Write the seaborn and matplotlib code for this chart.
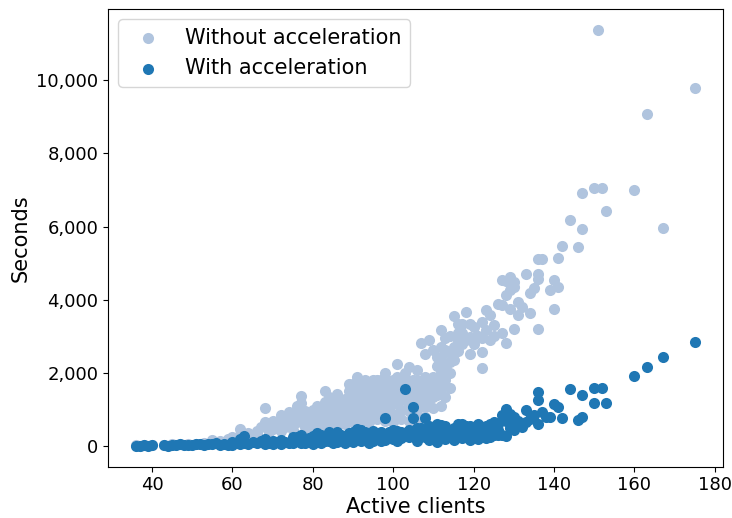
import matplotlib
matplotlib.use("Agg")
import matplotlib.pyplot as plt
import matplotlib.ticker as mticker
import seaborn as sns

# Job duration vs. number of active clients, run without acceleration
without_clients = [
    36, 37, 38, 40, 43, 45, 47, 49, 51, 53, 55, 56, 57, 58, 59, 60, 61, 62, 62, 63,
    64, 65, 66, 66, 67, 68, 68, 69, 69, 70, 70, 71, 72, 72, 72, 73, 73, 74, 74, 75,
    75, 75, 76, 76, 76, 77, 77, 77, 78, 78, 78, 79, 79, 80, 80, 80, 81, 81, 81, 82,
    82, 83, 83, 83, 84, 84, 84, 85, 85, 85, 86, 86, 86, 87, 87, 87, 88, 88, 89, 89,
    89, 89, 90, 90, 90, 91, 91, 91, 91, 92, 92, 92, 93, 93, 93, 93, 94, 94, 94, 95,
    95, 95, 95, 96, 96, 96, 97, 97, 97, 98, 98, 98, 98, 99, 99, 99, 100, 100, 100, 100,
    101, 101, 101, 101, 102, 102, 102, 103, 103, 103, 104, 104, 104, 104, 105, 105, 105, 106, 106, 106,
    107, 107, 107, 108, 108, 108, 108, 109, 109, 110, 110, 110, 110, 111, 111, 112, 112, 112, 112, 113,
    113, 113, 114, 114, 115, 115, 116, 116, 117, 117, 118, 118, 119, 119, 119, 120, 120, 121, 122, 122,
    122, 122, 123, 123, 124, 124, 125, 125, 126, 127, 127, 127, 128, 128, 128, 129, 129, 129, 130, 130,
    130, 131, 131, 132, 133, 134, 134, 135, 136, 136, 136, 137, 136, 139, 140, 140, 141, 141, 142, 144,
    146, 147, 147, 150, 152, 151, 153, 160, 163, 167, 175,
    84, 85, 86, 87, 88, 88, 89, 90, 90, 91, 91, 92, 92, 93, 94, 94, 95, 95, 96, 96,
    97, 97, 98, 98, 99, 99, 100, 100, 101, 101, 102, 102, 103, 103, 104, 104, 105, 105, 106, 106,
    107, 107, 108, 109, 109, 110, 111, 111, 112, 112, 113, 114, 114, 115, 116, 111, 113, 114, 116, 117,
    78, 80, 82, 84, 86, 88, 90, 92, 94, 96, 98, 100, 102, 104, 106, 108, 110, 112,
]
without_seconds = [
    30, 20, 40, 30, 40, 50, 60, 50, 70, 90, 180, 110, 140, 120, 200, 250, 180, 480, 300, 230,
    350, 280, 420, 350, 520, 1040, 650, 560, 400, 700, 480, 620, 850, 600, 420, 760, 540, 940, 720, 820,
    600, 450, 1090, 900, 650, 1370, 1170, 820, 960, 700, 520, 880, 620, 1000, 800, 600, 1100, 880, 650, 960,
    740, 1520, 1200, 860, 1170, 1000, 720, 1120, 900, 650, 1300, 1060, 800, 1220, 960, 700, 1100, 820, 1710, 1320,
    1020, 750, 1530, 1200, 920, 1890, 1420, 1100, 800, 1530, 1300, 1000, 1800, 1520, 1150, 850, 1620, 1300, 920, 1800,
    1530, 1220, 900, 1800, 1420, 1100, 1660, 1320, 980, 1990, 1530, 1200, 900, 1720, 1400, 1050, 1800, 1500, 1200, 880,
    2260, 1900, 1520, 1150, 1710, 1400, 1000, 2000, 1620, 1250, 2170, 1620, 1300, 950, 1820, 1420, 1100, 2080, 1600, 980,
    2810, 1710, 1320, 2530, 1890, 1530, 1070, 2900, 1620, 2620, 1890, 1620, 1350, 2200, 1800, 3170, 2710, 2440, 1800, 2620,
    1800, 1350, 2300, 2000, 3560, 2350, 3080, 2600, 3350, 2800, 3670, 2900, 3350, 2990, 2530, 3260, 2800, 3000, 3400, 2950,
    2580, 2150, 3720, 3170, 3580, 2900, 3310, 3000, 3880, 4540, 3850, 3080, 4510, 4130, 2810, 4630, 4260, 3760, 4490, 4350,
    3200, 3940, 3580, 3810, 4690, 4190, 3640, 4310, 5110, 4710, 4560, 5110, 3200, 4280, 4530, 3740, 5140, 4350, 5460, 6170,
    5430, 5920, 6910, 7050, 7050, 11370, 6420, 7000, 9070, 5970, 9780,
    1350, 1280, 1420, 1100, 1300, 1000, 1500, 1700, 1050, 1600, 1250, 1700, 1150, 1350, 1450, 1100, 1050, 1700, 1600, 1250,
    1800, 1150, 1750, 1350, 1550, 1250, 1650, 1350, 1700, 1350, 1550, 1250, 1800, 1450, 1450, 1150, 1650, 1250, 1800, 1400,
    1550, 1150, 1700, 1450, 1250, 1750, 1600, 1400, 2050, 1600, 2200, 2550, 1600, 2700, 2850, 2450, 2950, 3000, 3350, 3100,
    400, 450, 500, 550, 550, 600, 650, 700, 650, 750, 700, 650, 750, 700, 750, 800, 1050, 1100,
]

# Same workload with acceleration enabled
with_clients = [
    36, 37, 38, 39, 40, 43, 44, 45, 46, 47, 48, 49, 50, 51, 52, 53, 54, 55, 56, 57,
    58, 59, 60, 60, 61, 62, 62, 63, 63, 64, 65, 66, 67, 68, 68, 69, 70, 70, 71, 72,
    72, 73, 74, 75, 75, 76, 77, 78, 78, 79, 80, 80, 81, 81, 82, 82, 83, 84, 84, 85,
    85, 86, 86, 87, 88, 88, 89, 90, 90, 91, 91, 92, 92, 93, 94, 94, 95, 95, 96, 97,
    97, 98, 98, 98, 99, 100, 100, 101, 101, 102, 102, 103, 103, 104, 104, 105, 105, 105, 106, 106,
    106, 107, 108, 108, 108, 109, 109, 110, 110, 111, 111, 111, 112, 112, 113, 113, 114, 114, 115, 115,
    116, 116, 117, 117, 118, 118, 119, 119, 120, 120, 121, 121, 122, 122, 123, 123, 124, 124, 125, 125,
    126, 126, 127, 127, 128, 128, 128, 129, 129, 130, 130, 130, 131, 132, 133, 133, 134, 135, 136, 136,
    136, 137, 138, 139, 140, 141, 142, 144, 147, 146, 147, 150, 152, 150, 153, 160, 163, 167, 175,
    76, 77, 79, 80, 82, 83, 85, 86, 87, 89, 90, 92, 93, 94, 95, 96, 97, 99, 100, 101,
    102, 104, 106, 107, 109, 110, 112, 113, 115, 117, 119, 121, 123, 124, 125, 126,
]
with_seconds = [
    20, 10, 30, 15, 25, 30, 20, 40, 35, 50, 30, 45, 40, 60, 50, 40, 70, 60, 100, 40,
    70, 30, 120, 40, 80, 60, 200, 270, 100, 50, 120, 80, 150, 210, 60, 100, 150, 50, 110, 180,
    70, 120, 90, 240, 100, 150, 80, 200, 100, 130, 160, 60, 350, 120, 200, 80, 150, 390, 140, 200,
    90, 250, 120, 160, 220, 100, 180, 280, 120, 480, 200, 440, 150, 260, 180, 100, 300, 150, 220, 280,
    140, 760, 300, 180, 250, 350, 200, 300, 150, 400, 220, 1560, 300, 450, 250, 1070, 760, 400, 500, 300,
    150, 350, 760, 450, 250, 400, 180, 500, 300, 620, 350, 130, 450, 250, 550, 200, 400, 300, 500, 160,
    620, 350, 450, 220, 550, 300, 400, 180, 500, 300, 450, 200, 530, 350, 400, 230, 450, 250, 500, 300,
    600, 440, 850, 300, 1030, 700, 270, 890, 500, 800, 600, 440, 700, 530, 1000, 660, 750, 850, 1470, 1250,
    600, 940, 800, 800, 1150, 1060, 760, 1560, 1390, 710, 800, 1600, 1580, 1170, 1170, 1920, 2170, 2440, 2850,
    250, 300, 220, 280, 320, 260, 330, 380, 300, 350, 400, 330, 380, 300, 420, 350, 400, 380, 450, 420,
    300, 350, 400, 500, 550, 420, 580, 380, 350, 600, 550, 600, 550, 620, 650, 300,
]

fig = plt.figure(figsize=(7.32, 5.18), dpi=100)
ax = fig.add_axes([0.1475, 0.099, 0.8398, 0.8836])

sns.scatterplot(x=without_clients, y=without_seconds, color="#b0c4de", s=64,
                linewidth=0, label="Without acceleration", ax=ax)
sns.scatterplot(x=with_clients, y=with_seconds, color="#1f77b4", s=64,
                linewidth=0, label="With acceleration", ax=ax)

ax.set_xlabel("Active clients", fontsize=15, labelpad=2)
ax.set_ylabel("Seconds", fontsize=15)
ax.tick_params(labelsize=13)
ax.set_xticks([40, 60, 80, 100, 120, 140, 160, 180])
ax.set_yticks([0, 2000, 4000, 6000, 8000, 10000])
ax.yaxis.set_major_formatter(mticker.StrMethodFormatter("{x:,.0f}"))
ax.legend(loc="upper left", fontsize=15)

fig.savefig("out.png", dpi=100)
